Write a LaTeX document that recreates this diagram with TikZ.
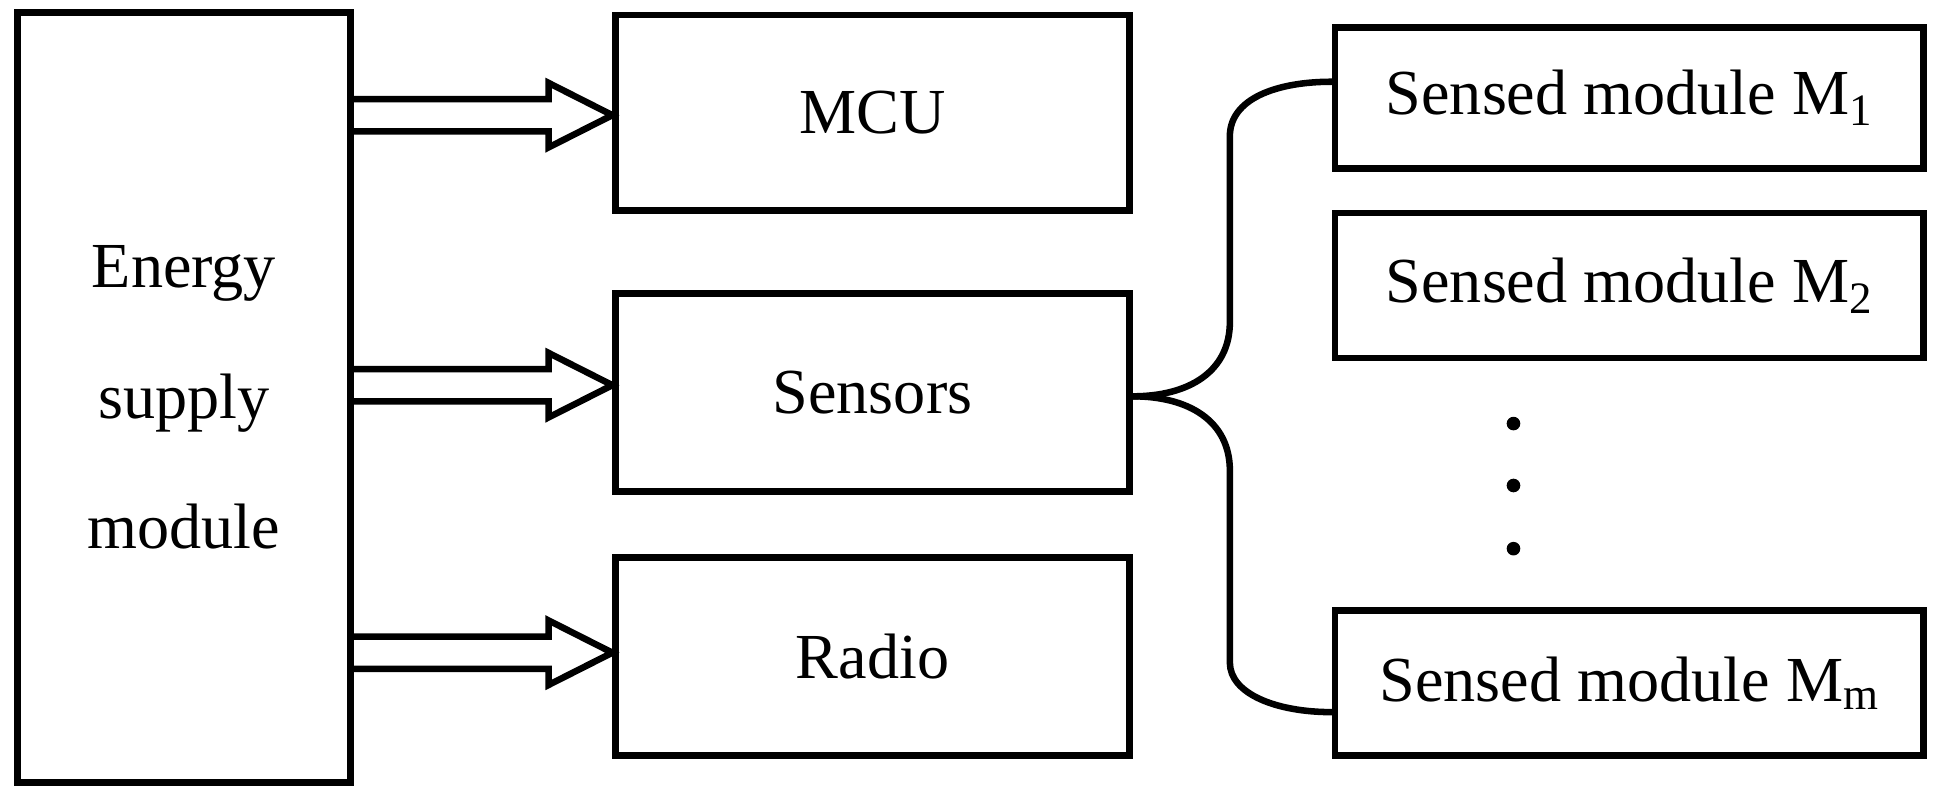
\documentclass[tikz,border=0pt]{standalone}
\usepackage{fontspec}
\setmainfont{Liberation Serif}
\begin{document}
\begin{tikzpicture}[x=0.02cm,y=-0.02cm,
  box/.style={draw,line width=3pt,inner sep=0pt,font=\fontsize{29.5}{60}\selectfont,align=center},
  ln/.style={line width=3pt,line join=miter}]
\useasboundingbox (0,0) rectangle (1568,644);
\node[box,minimum width=5.38cm,minimum height=12.44cm] (E) at (148.5,321) {Energy\\supply\\module};
\node[box,minimum width=8.3cm,minimum height=3.16cm] (MCU) at (704.5,91) {MCU};
\node[box,minimum width=8.3cm,minimum height=3.2cm] (S) at (704.5,317) {Sensors};
\node[box,minimum width=8.3cm,minimum height=3.2cm] (R) at (704.5,530) {Radio};
\node[box,minimum width=9.5cm,minimum height=2.28cm] (M1) at (1315.5,79) {Sensed module M\textsubscript{1}};
\node[box,minimum width=9.5cm,minimum height=2.34cm] (M2) at (1315.5,230.5) {Sensed module M\textsubscript{2}};
\node[box,minimum width=9.5cm,minimum height=2.34cm] (Mm) at (1315.5,551.5) {Sensed module M\textsubscript{m}};
\foreach \n/\y in {MCU/93,S/311,R/527}{
  \draw[ln] (E.east|-0,\y-13) -- (443,\y-13) -- (443,\y-26) -- (\n.west|-0,\y) -- (443,\y+26) -- (443,\y+13) -- (E.east|-0,\y+13);
}
\foreach \y in {342,392,443} \fill (1222,\y) circle (5.5);
\draw[ln] (S.east|-0,320) .. controls (960,320) and (993,300) .. (993,260) -- (993,110) .. controls (993,80) and (1030,66) .. (M1.west|-0,66);
\draw[ln] (S.east|-0,320) .. controls (960,320) and (993,340) .. (993,380) -- (993,535) .. controls (993,560) and (1030,575) .. (Mm.west|-0,575);
\end{tikzpicture}
\end{document}
